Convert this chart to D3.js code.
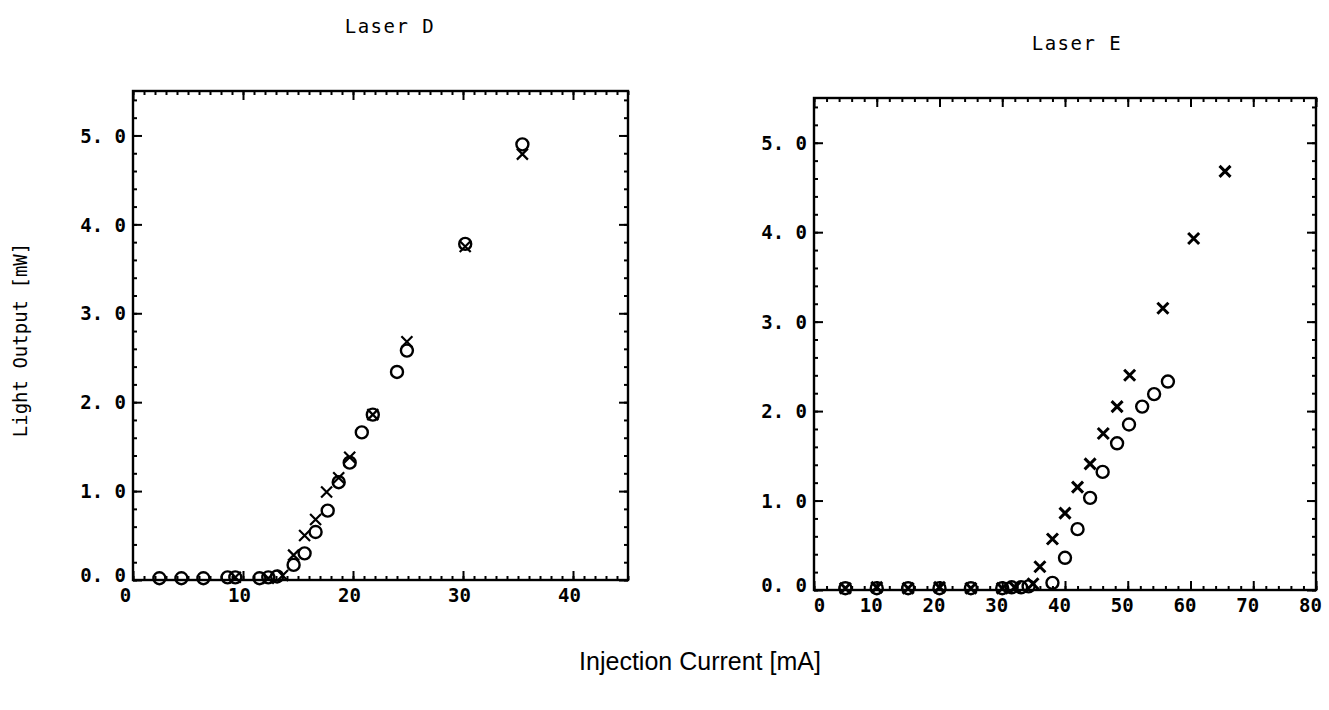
<!DOCTYPE html>
<html>
<head>
<meta charset="utf-8">
<script src="https://cdn.jsdelivr.net/npm/d3@7"></script>
<style>
  body { margin: 0; background: #fff; }
  text { fill: #000; }
  .tick text { font-family: "DejaVu Sans Mono", monospace; font-size: 19px; font-weight: bold; }
  .tick line { stroke: #000; stroke-width: 2; }
  .domain { display: none; }
</style>
</head>
<body>
<div id="chart"></div>
<script>
// Laser D, circles and crosses (current mA, light output mW)
var laserDCurrentO = [2.4, 4.4, 6.4, 8.6, 9.3, 11.5, 12.3, 13.1, 14.6, 15.6, 16.6, 17.7, 18.7, 19.7, 20.8, 21.8, 24.0, 24.9, 30.2, 35.4];
var laserDPowerO   = [0.02, 0.02, 0.02, 0.03, 0.03, 0.02, 0.03, 0.04, 0.17, 0.30, 0.54, 0.78, 1.10, 1.32, 1.66, 1.86, 2.34, 2.58, 3.78, 4.90];
var laserDCurrentX = [9.3, 12.3, 13.6, 14.6, 15.6, 16.6, 17.6, 18.7, 19.7, 21.8, 24.9, 30.2, 35.4];
var laserDPowerX   = [0.03, 0.02, 0.05, 0.28, 0.50, 0.68, 0.99, 1.15, 1.38, 1.86, 2.68, 3.75, 4.79];

// Laser E
var laserECurrentO = [5, 10, 15, 20, 25, 30, 31.5, 33, 34.2, 38, 40, 42, 44, 46, 48.3, 50.2, 52.3, 54.2, 56.4];
var laserEPowerO   = [0.02, 0.02, 0.02, 0.02, 0.02, 0.02, 0.03, 0.03, 0.04, 0.08, 0.36, 0.68, 1.03, 1.32, 1.64, 1.85, 2.05, 2.19, 2.33];
var laserECurrentX = [5, 10, 15, 20, 25, 30, 32, 34.9, 36, 38, 40, 42, 44, 46.1, 48.3, 50.3, 55.6, 60.5, 65.5];
var laserEPowerX   = [0.02, 0.03, 0.02, 0.03, 0.02, 0.02, 0.03, 0.07, 0.26, 0.57, 0.86, 1.15, 1.41, 1.75, 2.05, 2.40, 3.15, 3.93, 4.68];

var yTicks = [0, 1, 2, 3, 4, 5];
var laserDXTicks = [0, 10, 20, 30, 40];
var laserEXTicks = [0, 10, 20, 30, 40, 50, 60, 70, 80];

var svg = d3.select("#chart")
            .append("svg")
            .attr("width", 1329)
            .attr("height", 710);

function zip(xs, ys) {
  return xs.map((x, i) => ({ x: x, y: ys[i] }));
}

function drawPanel(p) {
  var xScale = d3.scaleLinear().domain(p.xDomain).range([p.left, p.right]);
  var yScale = d3.scaleLinear().domain([0, 5.5]).range([p.bottom, p.top]);
  var g = svg.append("g");

  var xMinor = d3.range(p.xDomain[0], p.xDomain[1] + 0.001, p.xMinorStep);
  var yMinor = d3.range(0, 5.5001, 0.2);

  // minor ticks, all four sides, inward
  g.append("g").attr("transform", `translate(0,${p.bottom})`)
   .call(d3.axisBottom(xScale).tickValues(xMinor).tickSize(-4).tickFormat(""));
  g.append("g").attr("transform", `translate(0,${p.top})`)
   .call(d3.axisTop(xScale).tickValues(xMinor).tickSize(-4).tickFormat(""));
  g.append("g").attr("transform", `translate(${p.left},0)`)
   .call(d3.axisLeft(yScale).tickValues(yMinor).tickSize(-4).tickFormat(""));
  g.append("g").attr("transform", `translate(${p.right},0)`)
   .call(d3.axisRight(yScale).tickValues(yMinor).tickSize(-4).tickFormat(""));

  // major ticks
  var xb = g.append("g").attr("transform", `translate(0,${p.bottom})`)
   .call(d3.axisBottom(xScale).tickValues(p.xTicks).tickSizeInner(-9).tickSizeOuter(0).tickFormat(d3.format("d")));
  xb.selectAll(".tick text")
    .attr("dx", d => d === 0 ? p.zeroDx : p.xLabelDx)
    .attr("y", 9);
  g.append("g").attr("transform", `translate(0,${p.top})`)
   .call(d3.axisTop(xScale).tickValues(p.xTicks).tickSize(-9).tickFormat(""));
  g.append("g").attr("transform", `translate(${p.left},0)`)
   .call(d3.axisLeft(yScale).tickValues(yTicks).tickSizeInner(-9).tickSizeOuter(0)
     .tickFormat(d => d.toFixed(1).replace(".", ". ")))
   .selectAll(".tick text").attr("x", -7).attr("dy", d => d === 0 ? "0.1em" : "0.35em");
  g.append("g").attr("transform", `translate(${p.right},0)`)
   .call(d3.axisRight(yScale).tickValues(yTicks).tickSize(-9).tickFormat(""));

  // frame
  g.append("rect")
   .attr("x", p.left).attr("y", p.top)
   .attr("width", p.right - p.left).attr("height", p.bottom - p.top)
   .attr("fill", "none").attr("stroke", "#000").attr("stroke-width", 2.4);

  // circles
  g.selectAll(".ring")
   .data(zip(p.currentO, p.powerO))
   .enter().append("circle")
   .attr("cx", d => xScale(d.x))
   .attr("cy", d => yScale(d.y))
   .attr("r", 6)
   .attr("fill", "none")
   .attr("stroke", "#000")
   .attr("stroke-width", 2.4);

  // crosses
  var s = 5.5;
  g.selectAll(".cross")
   .data(zip(p.currentX, p.powerX))
   .enter().append("path")
   .attr("d", d => {
     var cx = xScale(d.x), cy = yScale(d.y);
     return `M${cx - s},${cy - s}L${cx + s},${cy + s}M${cx - s},${cy + s}L${cx + s},${cy - s}`;
   })
   .attr("stroke", "#000")
   .attr("stroke-width", p.crossWidth)
   .attr("fill", "none");

  g.append("text")
   .attr("x", p.titleX).attr("y", p.titleY)
   .attr("text-anchor", "middle")
   .style("font-family", "'DejaVu Sans Mono', monospace")
   .style("font-size", "19px")
   .style("letter-spacing", "1.5px")
   .text(p.title);
}

drawPanel({
  title: "Laser D", titleX: 390, titleY: 33,
  left: 133, right: 628, top: 91, bottom: 580,
  xDomain: [0, 45], xMinorStep: 1, xTicks: laserDXTicks, xLabelDx: -4, zeroDx: -8,
  crossWidth: 2.2,
  currentO: laserDCurrentO, powerO: laserDPowerO,
  currentX: laserDCurrentX, powerX: laserDPowerX
});

drawPanel({
  title: "Laser E", titleX: 1077, titleY: 50,
  left: 814, right: 1316, top: 98, bottom: 590,
  xDomain: [0, 80], xMinorStep: 2, xTicks: laserEXTicks, xLabelDx: -6, zeroDx: 5,
  crossWidth: 3,
  currentO: laserECurrentO, powerO: laserEPowerO,
  currentX: laserECurrentX, powerX: laserEPowerX
});

svg.append("text")
   .attr("transform", "rotate(-90)")
   .attr("x", -340)
   .attr("y", 27)
   .attr("text-anchor", "middle")
   .style("font-family", "'DejaVu Sans Mono', monospace")
   .style("font-size", "19px")
   .text("Light Output [mW]");

svg.append("text")
   .attr("x", 700)
   .attr("y", 670)
   .attr("text-anchor", "middle")
   .style("font-family", "'Liberation Sans Narrow', 'Liberation Sans', sans-serif")
   .style("font-size", "25px")
   .text("Injection Current [mA]");
</script>
</body>
</html>
